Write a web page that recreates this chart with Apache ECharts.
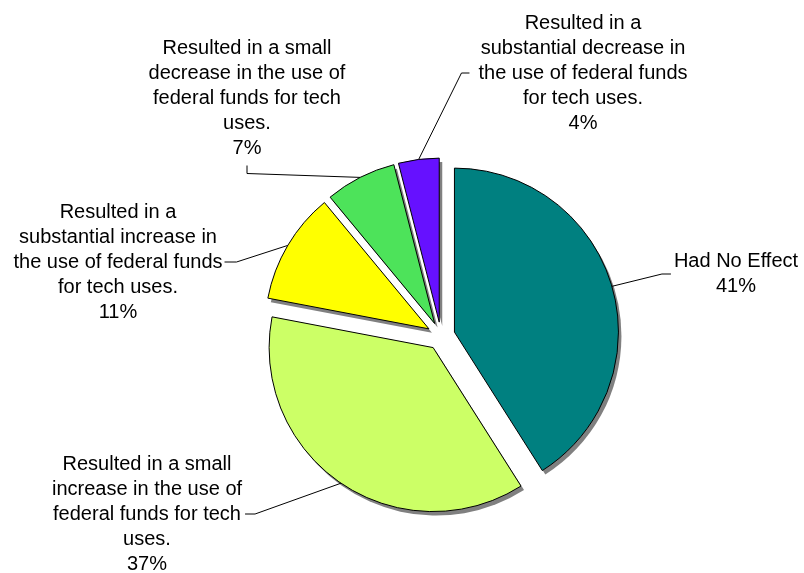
<!DOCTYPE html>
<html>
<head>
<meta charset="utf-8">
<script src="https://cdn.jsdelivr.net/npm/echarts@6/dist/echarts.min.js"></script>
<style>
  html, body { margin: 0; padding: 0; background: #ffffff; }
  #chart { width: 804px; height: 573px; }
</style>
</head>
<body>
<div id="chart"></div>
<script>
// Survey answers and their shares (percent of respondents)
const categories = [
  'Had No Effect',
  'Resulted in a small\nincrease in the use of\nfederal funds for tech\nuses.',
  'Resulted in a\nsubstantial increase in\nthe use of federal funds\nfor tech uses.',
  'Resulted in a small\ndecrease in the use of\nfederal funds for tech\nuses.',
  'Resulted in a\nsubstantial decrease in\nthe use of federal funds\nfor tech uses.'
];
const shares = [41, 37, 11, 7, 4];
const sliceColors = ['#008080', '#CCFF66', '#FFFF00', '#4DE35A', '#6611FF'];

// Pie geometry and callout placement
const PIE_CENTER = [441, 336];
const PIE_RADIUS = 164;
const EXPLODE = 14;
const calloutSpots = [
  { x: 736, y: 274, side: 'left',   gap: 3, len: 9 },
  { x: 147, y: 514, side: 'right',  gap: 3, len: 10 },
  { x: 118, y: 262, side: 'right',  gap: 2, len: 12 },
  { x: 247, y: 98,  side: 'bottom', gap: 5, len: 8 },
  { x: 583, y: 73,  side: 'left',   gap: 9, len: 8 }
];

const total = shares.reduce((a, b) => a + b, 0);
const midAngles = [];
let acc = 0;
shares.forEach(v => {
  midAngles.push(-Math.PI / 2 + 2 * Math.PI * (acc + v / 2) / total);
  acc += v;
});

// every slice is pushed out from the common centre along its bisector
const sliceCenters = midAngles.map(a => [
  PIE_CENTER[0] + Math.cos(a) * EXPLODE,
  PIE_CENTER[1] + Math.sin(a) * EXPLODE
]);

const hiddenItem = {
  color: 'rgba(0,0,0,0)',
  borderWidth: 0,
  shadowColor: 'rgba(0,0,0,0)'
};

function calloutLayout(params) {
  const i = params.dataIndex;
  const s = calloutSpots[i];
  const w = params.labelRect.width;
  const h = params.labelRect.height;
  const left = s.x - w / 2, right = s.x + w / 2;
  const bottom = s.y + h / 2;
  let end, elbow;
  if (s.side === 'left') {
    end = [left - s.gap, s.y];
    elbow = [end[0] - s.len, s.y];
  } else if (s.side === 'right') {
    end = [right + s.gap, s.y];
    elbow = [end[0] + s.len, s.y];
  } else {
    end = [s.x, bottom + s.gap];
    elbow = [s.x, end[1] + s.len];
  }
  const a = midAngles[i];
  const c = sliceCenters[i];
  const anchor = [c[0] + Math.cos(a) * PIE_RADIUS, c[1] + Math.sin(a) * PIE_RADIUS];
  return {
    x: s.x,
    y: s.y,
    align: 'center',
    verticalAlign: 'middle',
    labelLinePoints: [anchor, elbow, end]
  };
}

// layer 'fill': coloured slice with its drop shadow; layer 'edge': outline + callout
function sliceSeries(i, layer) {
  const isEdge = layer === 'edge';
  return {
    type: 'pie',
    name: categories[i],
    z: isEdge ? 3 : 2,
    center: sliceCenters[i],
    radius: PIE_RADIUS,
    startAngle: 90,
    clockwise: true,
    silent: true,
    avoidLabelOverlap: false,
    emphasis: { disabled: true },
    label: {
      show: false,
      position: 'outside',
      formatter: p => p.name + '\n' + p.value + '%',
      fontFamily: '"Liberation Sans", Arial, sans-serif',
      fontSize: 20,
      lineHeight: 25,
      color: '#000000',
      align: 'center'
    },
    labelLine: {
      show: false,
      smooth: false,
      lineStyle: { color: '#000000', width: 1 }
    },
    labelLayout: calloutLayout,
    data: categories.map((name, j) => {
      const own = j === i;
      return {
        name: name,
        value: shares[j],
        itemStyle: !own ? hiddenItem : (isEdge ? {
          color: 'rgba(0,0,0,0)',
          borderColor: '#000000',
          borderWidth: 1,
          shadowColor: 'rgba(0,0,0,0)'
        } : {
          color: sliceColors[j],
          borderWidth: 0,
          shadowColor: '#808080',
          shadowBlur: 0,
          shadowOffsetX: 3,
          shadowOffsetY: 4
        }),
        label: { show: own && isEdge },
        labelLine: { show: own && isEdge }
      };
    })
  };
}

const series = [];
categories.forEach((_, i) => series.push(sliceSeries(i, 'fill')));
categories.forEach((_, i) => series.push(sliceSeries(i, 'edge')));

const chart = echarts.init(document.getElementById('chart'), null, { renderer: 'canvas' });
chart.setOption({
  animation: false,
  backgroundColor: '#ffffff',
  series: series
});
</script>
</body>
</html>
